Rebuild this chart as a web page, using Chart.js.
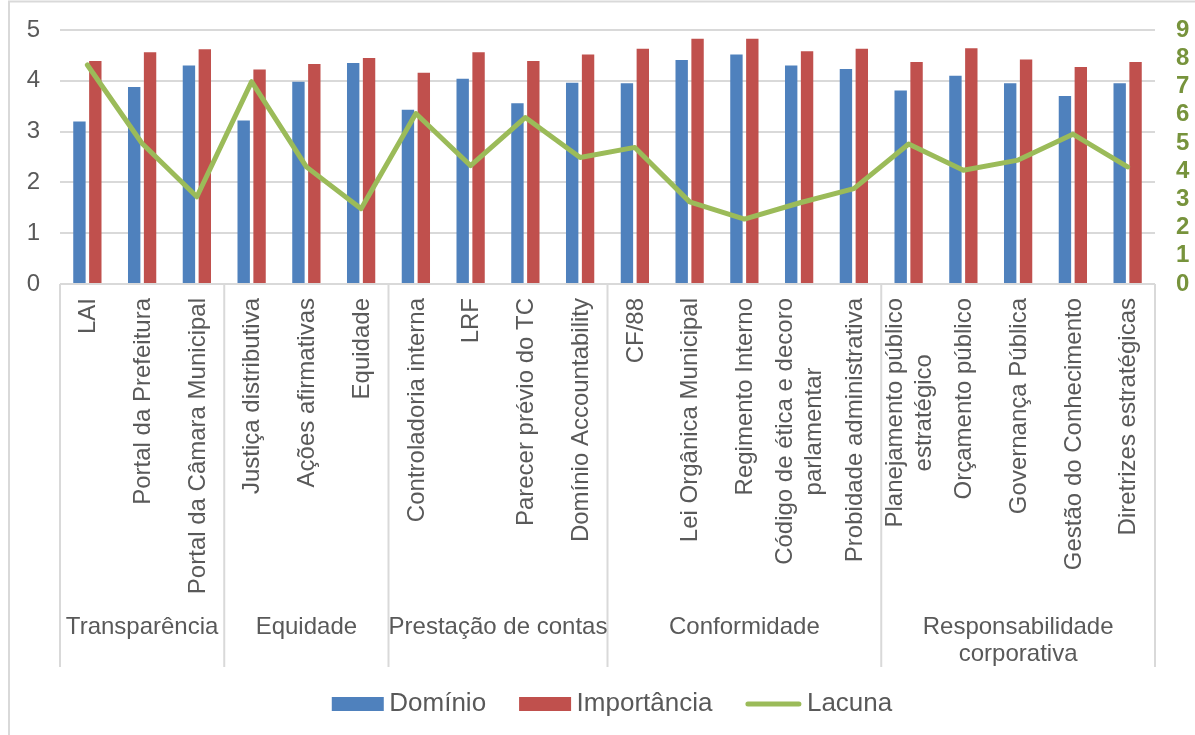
<!DOCTYPE html>
<html lang="pt-BR">
<head>
<meta charset="utf-8">
<title>Domínio, Importância e Lacuna</title>
<script src="https://cdn.jsdelivr.net/npm/chart.js@4.4.1/dist/chart.umd.min.js"></script>
<style>
  html, body { margin: 0; padding: 0; background: #ffffff; }
  #wrap { width: 1195px; height: 735px; position: relative; }
</style>
</head>
<body>
<div id="wrap"><canvas id="chart" width="1195" height="735"></canvas></div>
<script>
// Items evaluated, grouped by dimension
const categories = [
  'LAI', 'Portal da Prefeitura', 'Portal da Câmara Municipal',
  'Justiça distributiva', 'Ações afirmativas', 'Equidade',
  'Controladoria interna', 'LRF', 'Parecer prévio do TC', 'Domínio Accountability',
  'CF/88', 'Lei Orgânica Municipal', 'Regimento Interno',
  ['Código de ética e decoro', 'parlamentar'], 'Probidade administrativa',
  ['Planejamento público', 'estratégico'], 'Orçamento público', 'Governança Pública',
  'Gestão do Conhecimento', 'Diretrizes estratégicas'
];
const groupNames = ['Transparência', 'Equidade', 'Prestação de contas', 'Conformidade',
  ['Responsabilidade', 'corporativa']];
const groupSizes = [3, 3, 4, 5, 5];

// Mean scores (left axis, 0–5)
const dominio = [3.20, 3.88, 4.30, 3.22, 3.98, 4.35, 3.43, 4.04, 3.56, 3.96,
  3.95, 4.41, 4.52, 4.30, 4.23, 3.81, 4.10, 3.95, 3.70, 3.95];
const importancia = [4.39, 4.56, 4.62, 4.22, 4.33, 4.45, 4.16, 4.56, 4.39, 4.52,
  4.63, 4.83, 4.83, 4.58, 4.63, 4.37, 4.64, 4.42, 4.27, 4.37];
// Gap index (right axis, 0–9)
const lacuna = [7.76, 4.98, 3.09, 7.17, 4.15, 2.67, 6.04, 4.19, 5.90, 4.48,
  4.84, 2.91, 2.30, 2.87, 3.38, 4.96, 4.03, 4.39, 5.31, 4.15];

const leftTicks = [0, 1, 2, 3, 4, 5];
const rightTicks = [0, 1, 2, 3, 4, 5, 6, 7, 8, 9];

const FONT = "'Liberation Sans', Arial, sans-serif";
const TEXT = '#595959';
const GRID = '#D9D9D9';
const AXIS_SIZE = 24;
Chart.defaults.font.family = FONT;
Chart.defaults.color = TEXT;

// keep the plot area tight to the top: only half a label above the last tick
function fitValueAxis(width) {
  return scale => {
    scale.width = width;
    scale.paddingTop = 12;
    scale.paddingBottom = 12;
  };
}

// Category axis text, dimension groups, separators, legend and frame
const decorations = {
  id: 'decorations',
  beforeDraw(chart) {
    const { ctx } = chart;
    ctx.save();
    ctx.strokeStyle = GRID;
    ctx.lineWidth = 2;
    ctx.strokeRect(9, 1.5, chart.width + 20, chart.height + 20);
    ctx.restore();
  },
  afterDraw(chart) {
    const { ctx, chartArea, scales: { x } } = chart;
    const bottom = chartArea.bottom;
    ctx.save();

    // item labels, rotated, anchored just below the axis
    ctx.fillStyle = TEXT;
    ctx.font = `${AXIS_SIZE}px ${FONT}`;
    ctx.textAlign = 'center';
    ctx.textBaseline = 'middle';
    categories.forEach((lab, i) => {
      const lines = Array.isArray(lab) ? lab : [lab];
      const w = Math.max(...lines.map(l => ctx.measureText(l).width));
      ctx.save();
      ctx.translate(x.getPixelForValue(i) + 1, bottom + 14);
      ctx.rotate(-Math.PI / 2);
      lines.forEach((l, k) => {
        ctx.fillText(l, -w / 2, (k - (lines.length - 1) / 2) * 29);
      });
      ctx.restore();
    });

    // group separators and group names
    let start = 0;
    const edges = [x.getPixelForValue(-0.5)];
    groupSizes.forEach(n => { start += n; edges.push(x.getPixelForValue(start - 0.5)); });
    ctx.strokeStyle = GRID;
    ctx.lineWidth = 2;
    edges.forEach(px => {
      ctx.beginPath();
      ctx.moveTo(px, bottom);
      ctx.lineTo(px, bottom + 383);
      ctx.stroke();
    });
    ctx.textBaseline = 'alphabetic';
    groupNames.forEach((g, gi) => {
      const lines = Array.isArray(g) ? g : [g];
      const cx = (edges[gi] + edges[gi + 1]) / 2;
      lines.forEach((l, k) => ctx.fillText(l, cx, bottom + 350 + k * 26.5));
    });

    // legend
    ctx.font = `26px ${FONT}`;
    ctx.textAlign = 'left';
    const items = chart.data.datasets.map(ds => ({
      label: ds.label, color: ds.type === 'line' ? ds.borderColor : ds.backgroundColor,
      line: ds.type === 'line'
    }));
    const boxW = 52, gap = 5.5, itemGap = 33;
    const widths = items.map(it => (it.line ? 56 : boxW) + gap + ctx.measureText(it.label).width);
    const total = widths.reduce((a, b) => a + b, 0) + itemGap * (items.length - 1);
    let lx = (chartArea.left + chartArea.right) / 2 + 4.5 - total / 2;
    const ly = 704;
    items.forEach((it, i) => {
      if (it.line) {
        ctx.strokeStyle = it.color;
        ctx.lineWidth = 5;
        ctx.lineCap = 'round';
        ctx.beginPath();
        ctx.moveTo(lx + 2.5, ly);
        ctx.lineTo(lx + 56 - 2.5, ly);
        ctx.stroke();
        ctx.fillStyle = TEXT;
        ctx.fillText(it.label, lx + 56 + gap, ly + 7);
      } else {
        ctx.fillStyle = it.color;
        ctx.fillRect(lx, ly - 7, boxW, 14);
        ctx.fillStyle = TEXT;
        ctx.fillText(it.label, lx + boxW + gap, ly + 7);
      }
      lx += widths[i] + itemGap;
    });
    ctx.restore();
  }
};

new Chart(document.getElementById('chart'), {
  data: {
    labels: categories.map(c => Array.isArray(c) ? c.join(' ') : c),
    datasets: [
      {
        type: 'bar', label: 'Domínio', data: dominio, yAxisID: 'y', order: 1,
        backgroundColor: '#4F81BD', categoryPercentage: 0.58, barPercentage: 0.78
      },
      {
        type: 'bar', label: 'Importância', data: importancia, yAxisID: 'y', order: 1,
        backgroundColor: '#C0504D', categoryPercentage: 0.58, barPercentage: 0.78
      },
      {
        type: 'line', label: 'Lacuna', data: lacuna, yAxisID: 'y1', order: 0,
        borderColor: '#9BBB59', backgroundColor: '#9BBB59', borderWidth: 5,
        pointRadius: 0, tension: 0, borderJoinStyle: 'round', borderCapStyle: 'round'
      }
    ]
  },
  options: {
    responsive: false,
    animation: false,
    layout: { padding: { left: 10, right: 0, top: 30, bottom: 68 } },
    plugins: { legend: { display: false }, tooltip: { enabled: false }, title: { display: false } },
    scales: {
      x: {
        type: 'category',
        grid: { display: false },
        border: { display: false },
        ticks: { display: false },
        afterFit(scale) { scale.height = 383; }
      },
      y: {
        position: 'left',
        min: 0, max: 5,
        afterBuildTicks(scale) { scale.ticks = leftTicks.map(v => ({ value: v })); },
        grid: { color: GRID, lineWidth: 2, drawTicks: false },
        border: { display: false },
        ticks: { padding: 20, color: TEXT, autoSkip: false, font: { size: AXIS_SIZE } },
        afterFit: fitValueAxis(50)
      },
      y1: {
        position: 'right',
        min: 0, max: 9,
        afterBuildTicks(scale) { scale.ticks = rightTicks.map(v => ({ value: v })); },
        grid: { display: false, drawTicks: false },
        border: { display: false },
        ticks: { padding: 21, color: '#77933C', autoSkip: false, font: { size: AXIS_SIZE, weight: 'bold' } },
        afterFit: fitValueAxis(40)
      }
    }
  },
  plugins: [decorations]
});
</script>
</body>
</html>
